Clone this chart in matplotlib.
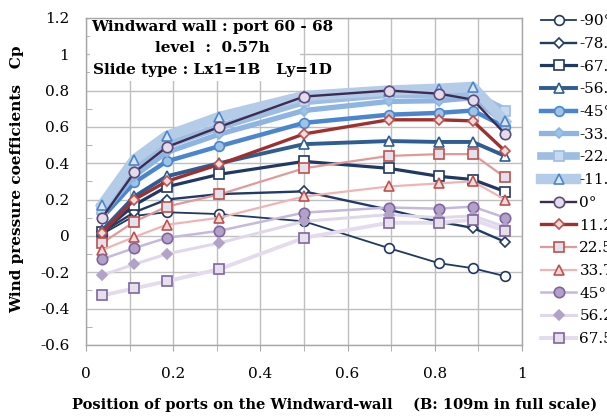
import matplotlib
matplotlib.use('Agg')
import matplotlib.pyplot as plt
from matplotlib.patches import Rectangle

# port positions along the windward wall (x / B)
ports = [0.037, 0.111, 0.185, 0.306, 0.5, 0.694, 0.809, 0.887, 0.961]

angles = ['-90°', '-78.75°', '-67.5°', '-56.25°', '-45°', '-33.75°', '-22.5°', '-11.25°',
          '0°', '11.25°', '22.5°', '33.75°', '45°', '56.25°', '67.5°']

cp_m90 = [0.01, 0.11, 0.13, 0.12, 0.08, -0.067, -0.15, -0.178, -0.222]
cp_m7875 = [0.02, 0.13, 0.20, 0.23, 0.245, 0.144, 0.078, 0.044, -0.033]
cp_m675 = [0.02, 0.17, 0.27, 0.339, 0.41, 0.372, 0.328, 0.31, 0.244]
cp_m5625 = [0.03, 0.217, 0.328, 0.40, 0.505, 0.522, 0.517, 0.517, 0.44]
cp_m45 = [0.10, 0.294, 0.41, 0.494, 0.622, 0.667, 0.677, 0.69, 0.60]
cp_m3375 = [0.12, 0.33, 0.46, 0.56, 0.69, 0.74, 0.744, 0.76, 0.62]
cp_m225 = [0.15, 0.37, 0.50, 0.60, 0.74, 0.78, 0.78, 0.78, 0.69]
cp_m1125 = [0.172, 0.42, 0.55, 0.655, 0.77, 0.80, 0.81, 0.82, 0.63]
cp_0 = [0.10, 0.35, 0.489, 0.60, 0.767, 0.80, 0.783, 0.75, 0.561]
cp_1125 = [0.017, 0.20, 0.30, 0.394, 0.561, 0.639, 0.639, 0.633, 0.467]
cp_225 = [-0.039, 0.078, 0.161, 0.228, 0.372, 0.44, 0.45, 0.45, 0.322]
cp_3375 = [-0.078, -0.006, 0.061, 0.10, 0.217, 0.272, 0.289, 0.30, 0.20]
cp_45 = [-0.128, -0.067, -0.011, 0.028, 0.128, 0.156, 0.15, 0.161, 0.10]
cp_5625 = [-0.217, -0.156, -0.10, -0.039, 0.08, 0.117, 0.10, 0.11, 0.05]
cp_675 = [-0.328, -0.289, -0.25, -0.183, -0.011, 0.072, 0.072, 0.089, 0.028]

series = [cp_m90, cp_m7875, cp_m675, cp_m5625, cp_m45, cp_m3375, cp_m225, cp_m1125,
          cp_0, cp_1125, cp_225, cp_3375, cp_45, cp_5625, cp_675]

# (line colour, line width, marker, marker face, marker edge, marker size)
styles = [
    ('#1f3864', 1.3, 'o', 'white', '#1f3864', 7),
    ('#1f3b66', 1.7, 'D', 'white', '#1f3b66', 5.5),
    ('#203864', 2.3, 's', 'white', '#203864', 7),
    ('#2e5d93', 2.8, '^', 'white', '#2e5d93', 7),
    ('#4a86d0', 3.2, 'o', '#9dc3e6', '#4a86d0', 7),
    ('#8db4e2', 3.8, 'D', '#9dc3e6', '#8db4e2', 5.5),
    ('#9dbde3', 5.5, 's', '#c5d9f1', '#9dbde3', 7.5),
    ('#b4cce8', 7.5, '^', '#dce6f2', '#4a86d0', 7.5),
    ('#3f2b4f', 1.7, 'o', '#e4dcea', '#5f4b7a', 7.5),
    ('#a03030', 2.4, 'D', '#f2dcdb', '#c0504d', 5.5),
    ('#e09a9a', 1.6, 's', '#e6e0ec', '#c0504d', 7.5),
    ('#f0b4b4', 1.6, '^', '#f2dcdb', '#c0504d', 7.5),
    ('#c5b8dc', 1.8, 'o', '#b3a2c7', '#8064a2', 7.5),
    ('#e0d8ea', 2.2, 'D', '#b3a2c7', '#b3a2c7', 5.5),
    ('#e4dcee', 2.8, 's', '#e6e0ec', '#8064a2', 7.5),
]

plt.rcParams['font.family'] = ['DejaVu Serif']

fig = plt.figure(figsize=(6.07, 4.16), dpi=100)
ax = fig.add_axes([0.1417, 0.171, 0.7183, 0.786])

for name, vals, st in zip(angles, series, styles):
    col, lw, mk, fc, ec, ms = st
    ax.plot(ports, vals, color=col, lw=lw, marker=mk, markerfacecolor=fc,
            markeredgecolor=ec, markersize=ms, markeredgewidth=1.2, label=name, zorder=3)

ax.set_xlim(0, 1)
ax.set_ylim(-0.6, 1.2)
ax.set_xticks([0, 0.2, 0.4, 0.6, 0.8, 1.0])
ax.set_xticklabels(['0', '0.2', '0.4', '0.6', '0.8', '1'])
ax.set_xticks([0.1, 0.3, 0.5, 0.7, 0.9], minor=True)
yt = [-0.6, -0.4, -0.2, 0, 0.2, 0.4, 0.6, 0.8, 1.0, 1.2]
ax.set_yticks(yt)
ax.set_yticklabels(['-0.6', '-0.4', '-0.2', '0', '0.2', '0.4', '0.6', '0.8', '1', '1.2'])
ax.set_yticks([-0.5, -0.3, -0.1, 0.1, 0.3, 0.5, 0.7, 0.9, 1.1], minor=True)

ax.set_axisbelow(True)
ax.grid(axis='y', which='major', color='#bfbfbf', lw=1.0)
ax.grid(axis='x', which='both', color='#bfbfbf', lw=1.0)
for s in ax.spines.values():
    s.set_color('#a6a6a6')
    s.set_linewidth(1.0)
ax.tick_params(axis='both', which='both', color='#a6a6a6', labelsize=11)
ax.tick_params(axis='x', which='both', direction='out', length=4)
ax.tick_params(axis='x', which='major', pad=12)
ax.tick_params(axis='y', which='major', length=0, pad=12)
ax.tick_params(axis='y', which='minor', direction='in', length=4)

# white text area over the grid
ax.add_patch(Rectangle((0.01, 0.85), 0.48, 0.345, facecolor='white', edgecolor='none', zorder=1))
ax.text(0.289, 1.15, 'Windward wall : port 60 - 68', ha='center', va='center',
        fontsize=11, fontweight='bold', zorder=4)
ax.text(0.289, 1.033, 'level  :  0.57h', ha='center', va='center',
        fontsize=11, fontweight='bold', zorder=4)
ax.text(0.289, 0.911, 'Slide type : Lx1=1B   Ly=1D', ha='center', va='center',
        fontsize=11, fontweight='bold', zorder=4)

ax.set_ylabel('Wind pressure coefficients   Cp', fontsize=11, fontweight='bold')
ax.yaxis.set_label_coords(-0.158, 0.505)
ax.set_xlabel('Position of ports on the Windward-wall    (B: 109m in full scale)',
              fontsize=10.5, fontweight='bold')
ax.xaxis.set_label_coords(0.571, -0.183)
ax.xaxis.label.set_va('center')
ax.yaxis.label.set_va('center')

ax.legend(loc='upper left', bbox_to_anchor=(1.03, 1.03), frameon=False, fontsize=11,
          handlelength=2.3, handletextpad=0.2, labelspacing=0.57, borderaxespad=0)

fig.savefig('out.png', dpi=100)
